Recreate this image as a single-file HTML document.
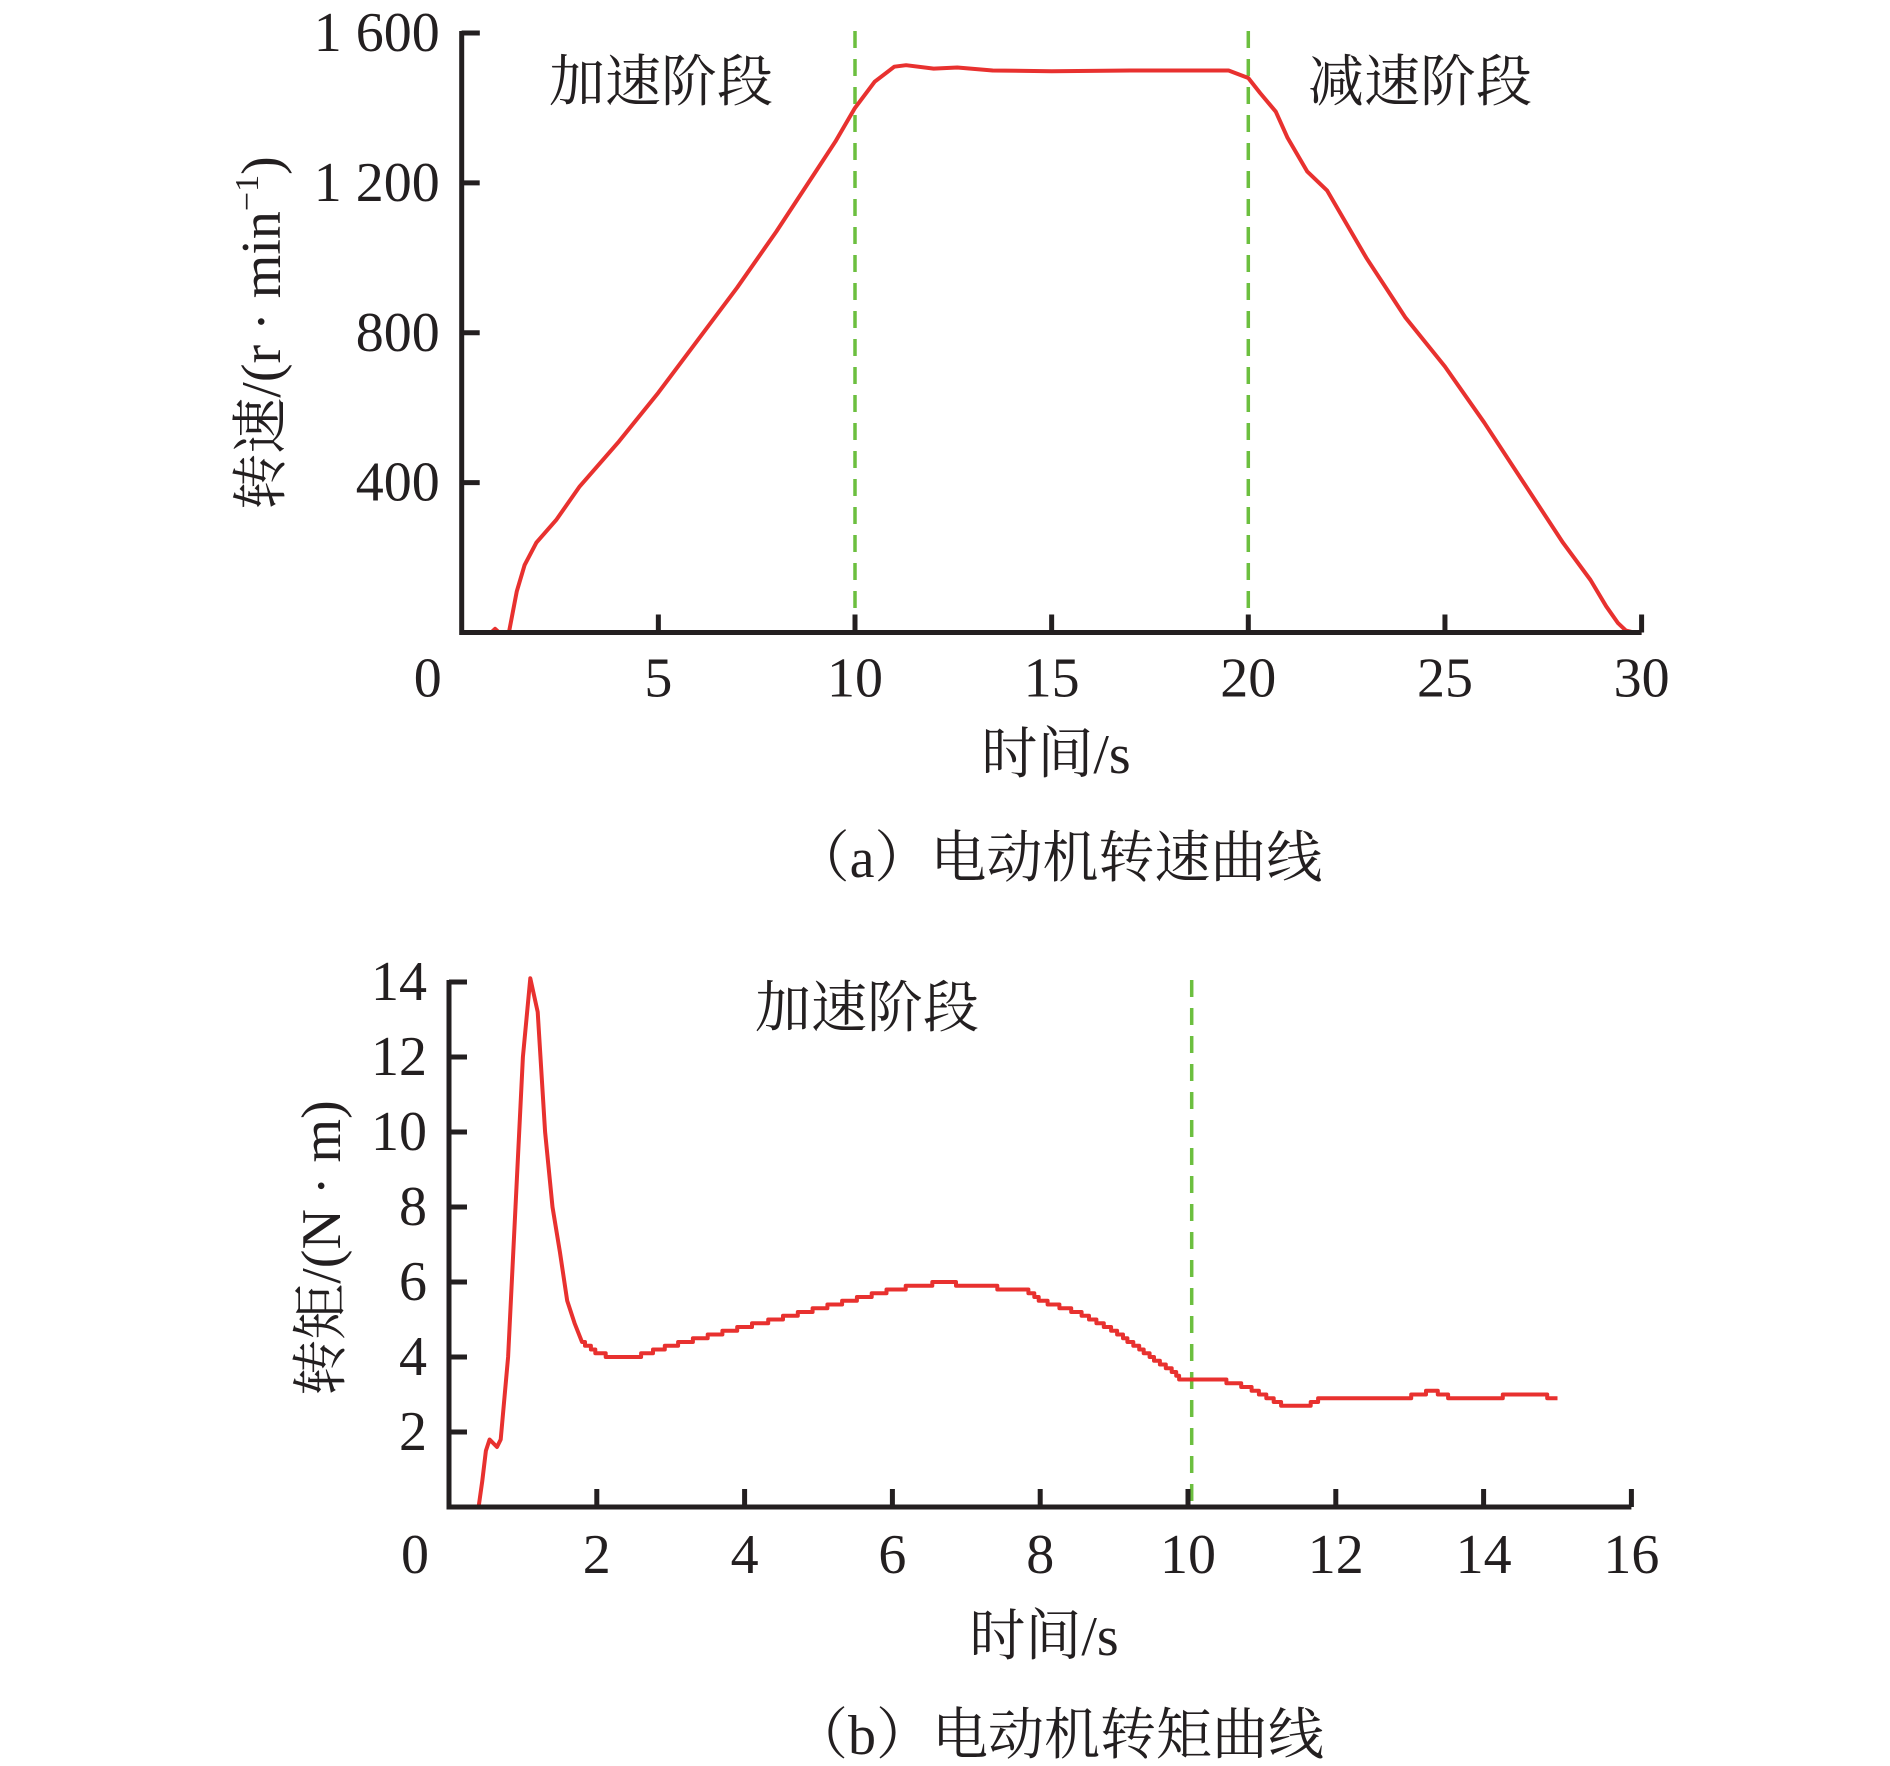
<!DOCTYPE html>
<html><head><meta charset="utf-8">
<style>
html,body{margin:0;padding:0;background:#fff;}
svg{display:block;}
.tk{font-family:"Liberation Serif","Noto Serif CJK SC",serif;font-size:56px;fill:#231f20;}
.cn{font-family:"Liberation Serif","Noto Serif CJK SC",serif;font-size:56px;fill:#231f20;}
</style></head>
<body>
<svg id="fig" width="1890" height="1766" viewBox="0 0 1890 1766" xmlns="http://www.w3.org/2000/svg">
<g id="chartA"></g>
<g id="chartB"></g>
</svg>
<script>
// ---- Chart A data (speed) ----
const speedTimes = [0,0.75,0.85,0.95,1.2,1.4,1.6,1.9,2.4,3,4,5,6,7,8,9,9.5,10,10.5,11,11.3,12,12.6,13.5,15,17,19.5,20,20.3,20.7,21,21.5,22,23,24,25,26,27,28,28.7,29.1,29.4,29.6,29.8,30];
const speedValues = [0,0,10,0,0,110,180,240,300,390,510,640,780,920,1070,1230,1310,1400,1470,1510,1514,1505,1508,1500,1498,1500,1500,1480,1440,1390,1320,1230,1180,1000,840,710,560,400,240,140,70,25,5,0,0];
const speedYTicks = [400,800,1200,1600];
const speedYLabels = ["400","800","1 200","1 600"];
const speedXTicks = [0,5,10,15,20,25,30];
const speedXLabels = ["0","5","10","15","20","25","30"];
const speedPhaseLines = [10,20];

// ---- Chart B data (torque) ----
const torqueTimes = [0,0.4,0.45,0.5,0.55,0.65,0.7,0.8,0.9,1.0,1.1,1.2,1.3,1.4,1.5,1.6,1.7,1.8,2,2.2,2.5,3,4,5,6,6.7,7,7.8,8,8.5,9,9.5,9.8,9.9,10.4,10.8,11.3,11.6,11.8,12.5,13,13.3,13.5,14,14.5,14.8,14.9,15];
const torqueValues = [0,0,0.7,1.5,1.8,1.6,1.8,4,8,12,14.1,13.2,10,8,6.8,5.5,4.9,4.4,4.1,4.0,4.0,4.3,4.8,5.3,5.8,6.0,5.9,5.8,5.5,5.2,4.7,4.0,3.6,3.4,3.4,3.2,2.7,2.7,2.9,2.9,2.95,3.1,2.95,2.9,3.0,3.0,2.9,2.9];
const torqueYTicks = [2,4,6,8,10,12,14];
const torqueYLabels = ["2","4","6","8","10","12","14"];
const torqueXTicks = [0,2,4,6,8,10,12,14,16];
const torqueXLabels = ["0","2","4","6","8","10","12","14","16"];
const torquePhaseLines = [10.05];

const NS="http://www.w3.org/2000/svg";
function mk(parent,tag,attrs){const e=document.createElementNS(NS,tag);for(const k in attrs)e.setAttribute(k,attrs[k]);parent.appendChild(e);return e;}

function interp(ts,vs,t){
  for(let i=1;i<ts.length;i++){ if(t<=ts[i]){const f=(t-ts[i-1])/(ts[i]-ts[i-1]||1);return vs[i-1]+f*(vs[i]-vs[i-1]);} }
  return vs[vs.length-1];
}

function drawChart(g,cfg){
  const X=t=>cfg.x0+(t-cfg.xmin)*(cfg.x1-cfg.x0)/(cfg.xmax-cfg.xmin);
  const Y=v=>cfg.y0-v*(cfg.y0-cfg.y1)/cfg.ymax;
  cfg.phase.forEach(p=>{
    const l=mk(g,'line',{x1:X(p),x2:X(p),y1:cfg.y1-2,y2:cfg.y0,stroke:'#6cbf3f','stroke-width':3.5,'stroke-dasharray':'17,11'});
    
    
  });
  let pts;
  if(cfg.stepFrom!==undefined){
    const arr=[];
    cfg.times.forEach((t,i)=>{ if(t<=cfg.stepFrom) arr.push([X(t),Y(cfg.vals[i])]); });
    let prev=null;
    const tEnd=cfg.times[cfg.times.length-1];
    for(let t=cfg.stepFrom;t<=tEnd+1e-9;t+=0.02){
      const q=Math.round(interp(cfg.times,cfg.vals,t)*10)/10;
      if(prev!==null && q!==prev) arr.push([X(t),Y(prev)]);
      arr.push([X(t),Y(q)]);
      prev=q;
    }
    pts=arr.map(p=>p[0].toFixed(1)+','+p[1].toFixed(1)).join(' ');
  } else {
    pts=cfg.times.map((t,i)=>X(t).toFixed(1)+','+Y(cfg.vals[i]).toFixed(1)).join(' ');
  }
  const pl=mk(g,'polyline',{points:pts,fill:'none',stroke:'#e8312f','stroke-width':4,'stroke-linejoin':'round'});
  
  
  const ax=mk(g,'path',{d:`M${cfg.x0},${cfg.y1-2} V${cfg.y0} H${X(cfg.xmax)}`,fill:'none',stroke:'#231f20','stroke-width':5});
  
  
  mk(g,'line',{x1:cfg.x0,x2:cfg.x0+18,y1:cfg.y1,y2:cfg.y1,stroke:'#231f20','stroke-width':5});
  cfg.yt.forEach((v,i)=>{
    mk(g,'line',{x1:cfg.x0,x2:cfg.x0+18,y1:Y(v),y2:Y(v),stroke:'#231f20','stroke-width':5});
    const t=mk(g,'text',{x:cfg.x0-22,y:Y(v)+18,'text-anchor':'end',class:'tk'});
    t.textContent=cfg.ytl[i];
    
    
  });
  cfg.xt.forEach((v,i)=>{
    if(v!==0) mk(g,'line',{x1:X(v),x2:X(v),y1:cfg.y0,y2:cfg.y0-18,stroke:'#231f20','stroke-width':5});
    const t=mk(g,'text',{x:v===0?X(v)-34:X(v),y:cfg.y0+cfg.xly,'text-anchor':'middle',class:'tk'});
    t.textContent=cfg.xtl[i];
    
    
  });
}

const gA=document.getElementById('chartA');
drawChart(gA,{x0:461.7,x1:461.7+30*39.33,xmin:0,xmax:30,y0:632.5,y1:33,ymax:1600,times:speedTimes,vals:speedValues,yt:speedYTicks,ytl:speedYLabels,xt:speedXTicks,xtl:speedXLabels,phase:speedPhaseLines,seriesName:'speed-line',xly:64});
const gB=document.getElementById('chartB');
drawChart(gB,{x0:449,x1:449+16*73.9,xmin:0,xmax:16,y0:1507,y1:982,ymax:14,times:torqueTimes,vals:torqueValues,yt:torqueYTicks,ytl:torqueYLabels,xt:torqueXTicks,xtl:torqueXLabels,phase:torquePhaseLines,seriesName:'torque-line',stepFrom:1.8,xly:66});
</script>
<svg style="position:absolute;left:0;top:0" width="1890" height="1766" viewBox="0 0 1890 1766" xmlns="http://www.w3.org/2000/svg">
  <text class="cn" x="661" y="101" text-anchor="middle">加速阶段</text>
  <text class="cn" x="1420" y="101" text-anchor="middle">减速阶段</text>
  <text class="cn" x="1056" y="773" text-anchor="middle">时间/s</text>
  <text class="cn" transform="translate(280,333) rotate(-90)" text-anchor="middle">转速/(r · min<tspan dy="-22" font-size="34">−1</tspan><tspan dy="22">)</tspan></text>
  <text class="cn" x="1058" y="877" text-anchor="middle" font-size="54">（a）电动机转速曲线</text>
  <text class="cn" x="867" y="1027" text-anchor="middle">加速阶段</text>
  <text class="cn" x="1044" y="1655" text-anchor="middle">时间/s</text>
  <text class="cn" transform="translate(340,1248) rotate(-90)" text-anchor="middle">转矩/(N · m)</text>
  <text class="cn" x="1058" y="1754" text-anchor="middle" font-size="54">（b）电动机转矩曲线</text>
</svg>
</body></html>
